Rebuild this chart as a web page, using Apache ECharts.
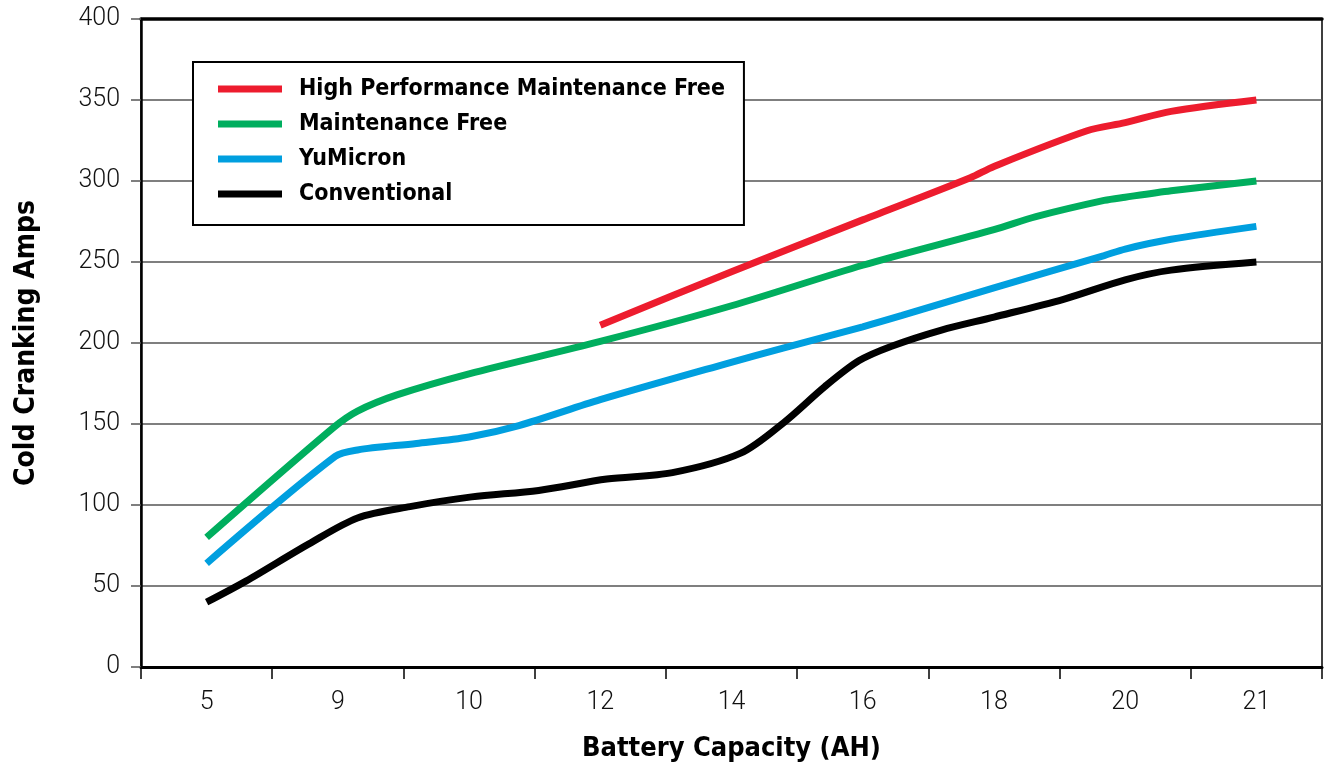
<!DOCTYPE html>
<html><head><meta charset="utf-8">
<script src="https://cdn.jsdelivr.net/npm/echarts@6/dist/echarts.min.js"></script>
<style>html,body{margin:0;padding:0;background:#fff}#c{width:1324px;height:767px}</style>
</head><body><div id="c"></div>
<script>
// Battery capacity categories (AH)
const categories = ['5', '9', '10', '12', '14', '16', '18', '20', '21'];
const seriesNames = ['High Performance Maintenance Free', 'Maintenance Free', 'YuMicron', 'Conventional'];

// x positions measured in category units (0 = "5", 8 = "21"), y = cold cranking amps
const hpmfX = [3, 4, 5, 5.82, 6, 6.71, 7, 7.35, 8];
const hpmfY = [211, 244, 276, 302, 309, 331, 336, 343, 350];

const mfX = [0, 0.97, 1.15, 1.45, 2, 3, 4, 5, 6, 6.32, 6.84, 7, 7.35, 8];
const mfY = [80, 148, 158, 168, 181, 201, 223, 248, 270, 278, 288, 290, 294, 300];

const yuX = [0, 0.98, 1.15, 1.6, 2, 2.38, 3, 3.95, 4.4, 5, 5.3, 6, 6.84, 7, 7.35, 8];
const yuY = [64, 130, 134, 138, 142, 149, 165, 187, 197, 210, 217, 234, 254, 258, 264, 272];

const convX = [0, 0.3, 0.78, 1.15, 1.55, 2.02, 2.53, 3.05, 3.55, 4.07, 4.4, 4.71, 4.97, 5.22, 5.6, 6, 6.53, 7, 7.35, 8];
const convY = [40, 53, 76, 92, 99, 105, 109, 116, 120, 132, 151, 173, 189, 198, 208, 216, 227, 239, 245, 250];

const colors = ['#ED1C2E', '#00AE5E', '#009FDF', '#000000'];

const pair = (xs, ys) => xs.map((x, i) => [x, ys[i]]);
const dataSets = [pair(hpmfX, hpmfY), pair(mfX, mfY), pair(yuX, yuY), pair(convX, convY)];

const boldFont = '"DejaVu Sans Condensed", "Liberation Sans", sans-serif';
const lightFont = 'Roboto, "Liberation Sans", sans-serif';

const chart = echarts.init(document.getElementById('c'), null, {renderer: 'canvas'});
chart.setOption({
  animation: false,
  backgroundColor: '#fff',
  grid: {left: 141, right: 2, top: 19, bottom: 100, show: true, borderColor: '#000', borderWidth: 1.5, backgroundColor: 'transparent'},
  legend: {
    orient: 'vertical', left: 193, top: 62,
    backgroundColor: '#fff', borderColor: '#000', borderWidth: 2,
    padding: [13, 19, 17, 25],
    icon: 'rect', itemWidth: 64, itemHeight: 7, itemGap: 7,
    textStyle: {fontFamily: boldFont, fontWeight: 'bold', fontSize: 23, color: '#000', lineHeight: 28, padding: [0, 0, 0, 12]},
    data: seriesNames
  },
  xAxis: [
    {
      type: 'category', data: categories, position: 'bottom',
      axisLine: {show: true, lineStyle: {color: '#000', width: 3}},
      axisTick: {show: true, inside: false, length: 12, lineStyle: {color: '#000', width: 1.5}},
      axisLabel: {fontFamily: lightFont, fontWeight: 300, fontSize: 25, color: '#111', margin: 23},
      splitLine: {show: false},
      name: 'Battery Capacity (AH)', nameLocation: 'middle', nameGap: 68,
      nameTextStyle: {fontFamily: boldFont, fontWeight: 'bold', fontSize: 27, color: '#000'}
    },
    {
      type: 'value', min: -0.5, max: 8.5, position: 'top',
      axisLine: {show: true, onZero: false, lineStyle: {color: '#000', width: 3.5}},
      axisTick: {show: false}, axisLabel: {show: false}, splitLine: {show: false}
    }
  ],
  yAxis: {
    type: 'value', min: 0, max: 400, interval: 50,
    axisLine: {show: true, onZero: false, lineStyle: {color: '#000', width: 2.5}},
    axisTick: {show: true, length: 10, lineStyle: {color: '#555', width: 1.5}},
    axisLabel: {fontFamily: lightFont, fontWeight: 300, fontSize: 25, color: '#111', margin: 21},
    splitLine: {show: true, lineStyle: {color: '#555', width: 1.5}},
    name: 'Cold Cranking Amps', nameLocation: 'middle', nameGap: 100, nameRotate: 90,
    nameTextStyle: {fontFamily: boldFont, fontWeight: 'bold', fontSize: 28, color: '#000'}
  },
  series: seriesNames.map((n, i) => ({
    name: n, type: 'line', xAxisIndex: 1, data: dataSets[i],
    smooth: 0.3, showSymbol: false, symbol: 'none',
    lineStyle: {color: colors[i], width: 7, cap: 'butt'},
    itemStyle: {color: colors[i]},
    z: 10 - i
  }))
});
</script></body></html>
